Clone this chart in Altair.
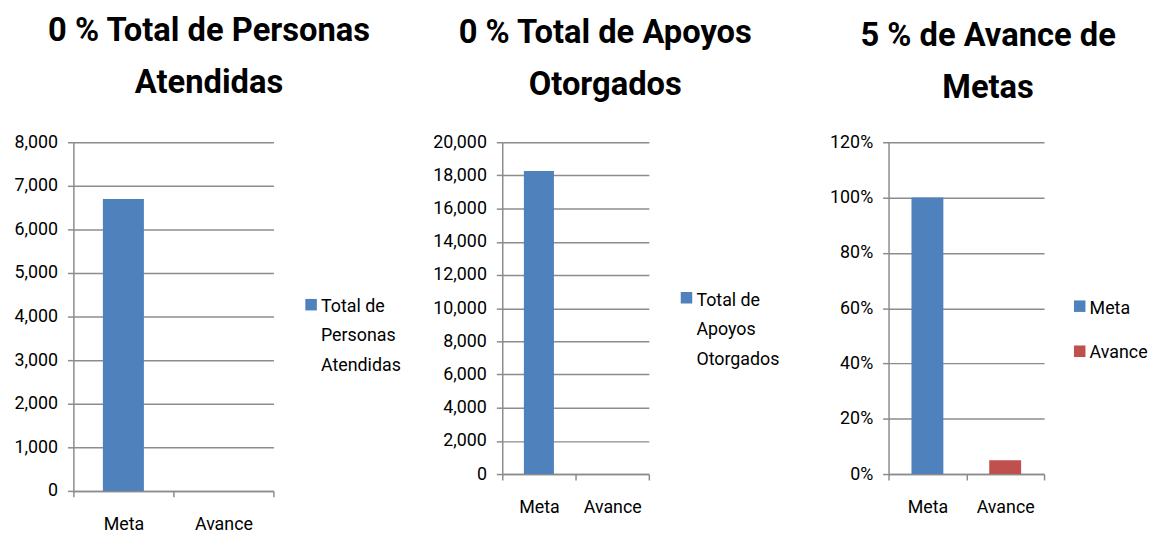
import altair as alt
import pandas as pd

CATEGORIAS = ["Meta", "Avance"]

# Panel 1
P1_TITULO = ["0 % Total de Personas", "Atendidas"]
P1_SERIES = ["Total de Personas Atendidas"]
P1_SERIE_BARRAS = ["Total de Personas Atendidas", "Total de Personas Atendidas"]
P1_VALORES = [6700, 0]
P1_LEYENDA = [["Total de", "Personas", "Atendidas"]]
P1_TICKS = [0, 1000, 2000, 3000, 4000, 5000, 6000, 7000, 8000]

# Panel 2
P2_TITULO = ["0 % Total de Apoyos", "Otorgados"]
P2_SERIES = ["Total de Apoyos Otorgados"]
P2_SERIE_BARRAS = ["Total de Apoyos Otorgados", "Total de Apoyos Otorgados"]
P2_VALORES = [18270, 0]
P2_LEYENDA = [["Total de", "Apoyos", "Otorgados"]]
P2_TICKS = [0, 2000, 4000, 6000, 8000, 10000, 12000, 14000, 16000, 18000, 20000]

# Panel 3
P3_TITULO = ["5 % de Avance de", "Metas"]
P3_SERIES = ["Meta", "Avance"]
P3_SERIE_BARRAS = ["Meta", "Avance"]
P3_VALORES = [1.00, 0.05]
P3_LEYENDA = [["Meta"], ["Avance"]]
P3_TICKS = [0, 0.2, 0.4, 0.6, 0.8, 1.0, 1.2]

AZUL = "#4F81BD"
ROJO = "#C0504D"
GRIS = "#8c8c8c"
FUENTE = "Roboto"


def panel(titulo, series, serie_barras, valores, leyenda, ticks, fmt,
          colores, width, height, title_dx, title_dy, leg_sq_x, leg_txt_x, leg_sq_y, leg_txt_y):
    df = pd.DataFrame({"Categoria": CATEGORIAS, "Valor": valores, "Serie": serie_barras})
    color_scale = alt.Scale(domain=series, range=colores)
    bars = alt.Chart(df).mark_bar(width=alt.RelativeBandSize(0.41)).encode(
        x=alt.X("Categoria:N", sort=CATEGORIAS,
                scale=alt.Scale(paddingInner=0, paddingOuter=0),
                axis=alt.Axis(title=None, labelAngle=0, tickBand="extent",
                              domainColor=GRIS, domainWidth=1.5, tickColor=GRIS,
                              tickWidth=1.5, tickSize=6, labelPadding=19,
                              labelFont=FUENTE, labelFontSize=18, labelColor="black",
                              grid=False)),
        y=alt.Y("Valor:Q", scale=alt.Scale(domain=[ticks[0], ticks[-1]], nice=False),
                axis=alt.Axis(title=None, values=ticks, format=fmt, grid=True,
                              gridColor=GRIS, gridWidth=1.5, domainColor=GRIS,
                              domainWidth=1.5, tickColor=GRIS, tickWidth=1.5,
                              tickSize=6, labelPadding=10, labelFont=FUENTE,
                              labelFontSize=18, labelColor="black")),
        color=alt.Color("Serie:N", scale=color_scale, legend=None),
    )
    layers = [bars]
    for i, s in enumerate(series):
        dl = pd.DataFrame({"Serie": [s], "Etiqueta": ["\n".join(leyenda[i])]})
        sq = alt.Chart(dl).mark_square(size=135, opacity=1).encode(
            x=alt.value(leg_sq_x), y=alt.value(leg_sq_y[i]),
            color=alt.Color("Serie:N", scale=color_scale, legend=None))
        tx = alt.Chart(dl).mark_text(align="left", baseline="alphabetic", font=FUENTE,
                                     fontSize=18, lineHeight=30, lineBreak="\n",
                                     color="black").encode(
            x=alt.value(leg_txt_x), y=alt.value(leg_txt_y[i]), text="Etiqueta:N")
        layers += [sq, tx]
    return alt.layer(*layers).properties(
        width=width, height=height,
        title=alt.TitleParams(text=titulo, font=FUENTE, fontSize=33, fontWeight="bold",
                              color="black", anchor="middle", frame="group",
                              dx=title_dx, dy=title_dy, lineHeight=52, offset=34),
    )


def espacio(w):
    d = pd.DataFrame({"v": [0]})
    return alt.Chart(d).mark_point(opacity=0).encode(
        x=alt.value(0), y=alt.value(0)).properties(width=w, height=1)


p1 = panel(P1_TITULO, P1_SERIES, P1_SERIE_BARRAS, P1_VALORES, P1_LEYENDA, P1_TICKS, ",d",
           [AZUL], 202, 352, 36, 0, 240, 250, [164], [171])
p2 = panel(P2_TITULO, P2_SERIES, P2_SERIE_BARRAS, P2_VALORES, P2_LEYENDA, P2_TICKS, ",d",
           [AZUL], 148, 335, 30, 2, 186, 196, [157], [165])
p3 = panel(P3_TITULO, P3_SERIES, P3_SERIE_BARRAS, P3_VALORES, P3_LEYENDA, P3_TICKS, ".0%",
           [AZUL, ROJO], 157, 335, 22, 5, 193, 203, [165.5, 211], [173, 218])

chart = alt.hconcat(p1, espacio(231), p2, espacio(242), p3, spacing=0, bounds="flush").properties(
    padding={"left": 5, "top": 5, "right": 5, "bottom": 0}
).configure_view(stroke=None).resolve_scale(color="independent", y="independent", x="independent")

chart.save("out.html", embed_options={"renderer": "svg", "actions": False})
